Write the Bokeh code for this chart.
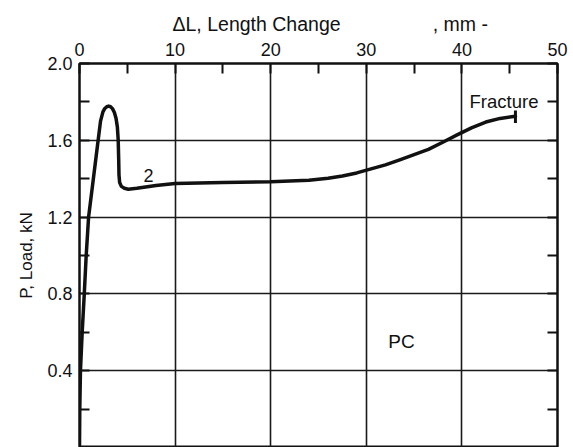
from bokeh.plotting import figure
from bokeh.models import FixedTicker, LinearAxis, PrintfTickFormatter, Label, Range1d, Title
from bokeh.embed import file_html
from bokeh.resources import INLINE

# ---- data ----
length_change = [0.0, 0.03, 0.1, 0.28, 0.5, 0.7, 0.95, 1.45, 1.95, 2.2, 2.45, 2.65, 2.85,
                 3.05, 3.25, 3.45, 3.65, 3.82, 3.96, 4.05, 4.1, 4.13, 4.2, 4.38, 4.7,
                 5.1, 6.0, 8.0, 10.0, 15.0, 20.0, 24.0, 26.0, 27.5, 29.0, 30.5, 32.0,
                 33.5, 35.0, 36.5, 38.0, 39.5, 41.0, 42.5, 44.0, 45.6]
load = [0.0, 0.2, 0.4, 0.6, 0.8, 1.0, 1.2, 1.4, 1.6, 1.7, 1.748, 1.766, 1.775,
        1.778, 1.775, 1.765, 1.745, 1.715, 1.67, 1.6, 1.5, 1.42, 1.38, 1.36, 1.35,
        1.345, 1.35, 1.365, 1.375, 1.38, 1.384, 1.392, 1.402, 1.414, 1.43, 1.451, 1.472,
        1.498, 1.525, 1.553, 1.59, 1.628, 1.665, 1.695, 1.714, 1.725]

fracture_x = [45.6]
fracture_lo = [1.69]
fracture_hi = [1.755]

x_ticks = [0, 10, 20, 30, 40, 50]
x_minor = [5, 15, 25, 35, 45]
y_ticks = [0.4, 0.8, 1.2, 1.6, 2.0]
y_minor = [0.2, 0.6, 1.0, 1.4, 1.8]

x_title_parts = ["\u0394L, Length Change", ", mm -"]
y_title = "P, Load, kN"

notes = ["Fracture", "2", "PC"]
notes_x = [40.8, 6.7, 32.3]
notes_y = [1.80, 1.415, 0.55]
notes_size = ["18.5px", "18px", "19px"]

FONT = "Liberation Sans"
INK = "#111111"

p = figure(width=573, height=447, x_range=Range1d(0, 50), y_range=Range1d(0, 2.0),
           x_axis_location="above", output_backend="svg", toolbar_location=None,
           min_border_left=79, min_border_right=16, min_border_top=63, min_border_bottom=0)
p.background_fill_color = "white"
p.border_fill_color = "white"
p.outline_line_color = INK
p.outline_line_width = 2


def style_axis(ax):
    ax.axis_line_color = INK
    ax.axis_line_width = 2
    ax.major_tick_in = 10
    ax.major_tick_out = 0
    ax.minor_tick_in = 10
    ax.minor_tick_out = 0
    ax.major_tick_line_color = INK
    ax.minor_tick_line_color = INK
    ax.major_tick_line_width = 2
    ax.minor_tick_line_width = 2
    ax.major_label_text_font = FONT
    ax.major_label_text_font_size = "18px"
    ax.major_label_text_color = INK


xa = p.xaxis[0]
xa.ticker = FixedTicker(ticks=x_ticks, minor_ticks=x_minor)
style_axis(xa)
xa.major_label_standoff = 8

ya = p.yaxis[0]
ya.ticker = FixedTicker(ticks=y_ticks, minor_ticks=y_minor)
ya.formatter = PrintfTickFormatter(format="%.1f")
style_axis(ya)
ya.major_label_standoff = 7
ya.axis_label = y_title
ya.axis_label_text_font = FONT
ya.axis_label_text_font_size = "17px"
ya.axis_label_text_font_style = "normal"
ya.axis_label_text_color = INK
ya.axis_label_standoff = 8

ra = LinearAxis(ticker=FixedTicker(ticks=y_ticks, minor_ticks=y_minor))
style_axis(ra)
ra.major_label_text_font_size = "1px"
ra.major_label_text_color = None
ra.major_label_standoff = 0
p.add_layout(ra, "right")

p.xgrid[0].ticker = FixedTicker(ticks=x_ticks)
p.ygrid[0].ticker = FixedTicker(ticks=y_ticks)
for g in (p.xgrid[0], p.ygrid[0]):
    g.grid_line_color = "#1a1a1a"
    g.grid_line_width = 1.6
    g.grid_line_alpha = 1.0

p.line(length_change, load, line_color=INK, line_width=3.5, line_join="round", line_cap="round")
p.segment(x0=fracture_x, y0=fracture_lo, x1=fracture_x, y1=fracture_hi,
          line_color=INK, line_width=3)

gap = "\u00a0" * 17
title = Title(text=x_title_parts[0] + gap + x_title_parts[1], align="left", offset=93,
              text_font=FONT, text_font_size="19.5px", text_font_style="normal",
              text_color=INK, standoff=9)
p.add_layout(title, "above")

for t, xp, yp, fs in zip(notes, notes_x, notes_y, notes_size):
    p.add_layout(Label(x=xp, y=yp, text=t, text_font=FONT, text_font_size=fs,
                       text_color=INK, text_baseline="alphabetic", text_align="left"))

open("out.html", "w").write(file_html(p, INLINE))
